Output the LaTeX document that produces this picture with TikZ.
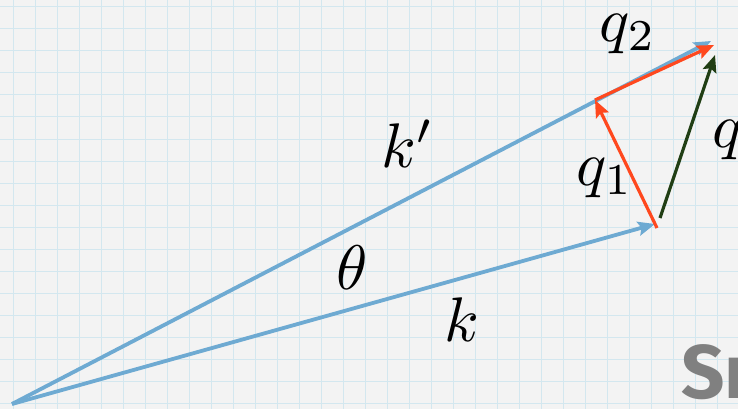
\documentclass[tikz,border=0pt]{standalone}
\usepackage{amsmath,amssymb}
\usepackage{fontspec}
\usepackage{tikz}
\usetikzlibrary{arrows.meta, calc, positioning}
\definecolor{paper}{RGB}{243,243,243}
\definecolor{gridblue}{RGB}{211,231,239}
\definecolor{vecblue}{RGB}{110,170,210}
\definecolor{vecred}{RGB}{255,72,30}
\definecolor{vecgreen}{RGB}{32,62,20}
\definecolor{stampgray}{RGB}{128,128,128}
\newfontfamily\stampfont{Fira Sans}

\begin{document}
\begin{tikzpicture}[x=1pt, y=-1pt,
    vec/.style={line width=3.8pt, -{Stealth[length=17pt,width=14pt,inset=3pt]}},
    lbl/.style={scale=6.3, inner sep=0pt}]
    % Paper and grid
    \fill[paper] (0,0) rectangle (738,409);
    \clip (0,0) rectangle (738,409);
    \useasboundingbox (0,0) rectangle (738,409);
    \foreach \x in {13,35,...,738} \draw[gridblue, line width=1pt] (\x,0) -- (\x,409);
    \foreach \y in {7,29,...,409} \draw[gridblue, line width=1pt] (0,\y) -- (738,\y);

    % End points
    \coordinate (O) at (12,404);
    \coordinate (K) at (655,224);
    \coordinate (Kp) at (711,41);
    \coordinate (Q1s) at (657,228);
    \coordinate (Q1e) at (595,100);
    \coordinate (Q2e) at (714,45);
    \coordinate (Qs) at (660,218);
    \coordinate (Qe) at (715,55);

    % Vectors
    \draw[vec, vecblue] (O) -- (Kp);
    \draw[vec, vecblue] (O) -- (K);
    \draw[vec, vecred, line width=3.2pt] (Q1s) -- (Q1e);
    \draw[vec, vecred, line width=3.2pt] (Q1e) -- (Q2e);
    \draw[vec, vecgreen, line width=3.2pt] (Qs) -- (Qe);

    % Labels
    \node[lbl] (lq2) at (628,34) {$q_2$};
    \node[lbl] (lkp) at (408,144) {$k'$};
    \node[lbl] (lq1) at (605,178) {$q_1$};
    \node[lbl, anchor=west] (lq) at (711,140) {$q$};
    \node[lbl] (lth) at (352,268) {$\theta$};
    \node[lbl] (lk) at (462,320) {$k$};

    % Stamp in the corner
    \node[anchor=north west, inner sep=0pt, text=stampgray,
        font=\stampfont\bfseries\fontsize{76}{76}\selectfont] (stamp) at (681,344) {Sn};
\end{tikzpicture}
\end{document}
